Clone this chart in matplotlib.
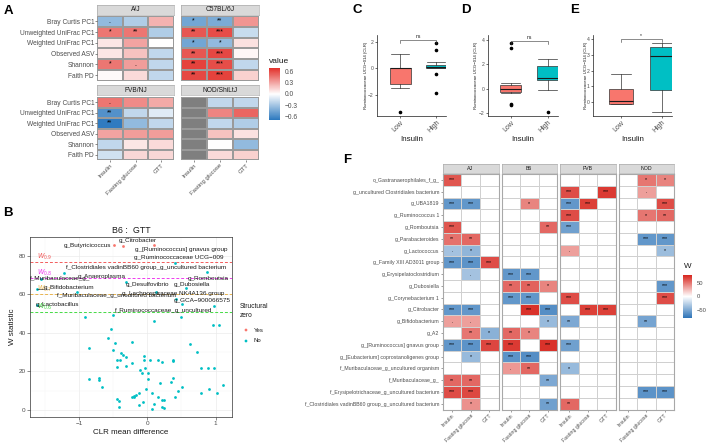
import numpy as np
import matplotlib
matplotlib.use('Agg')
import matplotlib.pyplot as plt
from matplotlib.colors import LinearSegmentedColormap, Normalize
import matplotlib.colorbar as mcolorbar

plt.rcParams['font.family'] = ['Liberation Sans', 'DejaVu Sans']

# ------------------------------------------------------------------ data
# Panel A
a_metrics = ['Bray Curtis PC1', 'Unweighted UniFrac PC1', 'Weighted UniFrac PC1',
             'Observed ASV', 'Shannon', 'Faith PD']
a_vars = ['Insulin', 'Fasting glucose', 'GTT']
a_strains = ['A/J', 'C57BL/6J', 'FVB/NJ', 'NOD/ShiLtJ']
a_aj = [[-0.35, -0.25, 0.25], [0.45, 0.45, -0.25], [0.08, 0.30, 0.0],
        [0.08, 0.20, -0.20], [0.45, 0.32, -0.20], [0.02, 0.12, -0.20]]
a_aj_sig = [['.', '', ''], ['*', '**', ''], ['', '', ''], ['', '', ''], ['*', '.', ''], ['', '', '']]
a_b6 = [[-0.45, -0.42, 0.35], [0.55, 0.58, -0.18], [-0.45, -0.35, 0.10],
        [0.55, 0.60, 0.03], [0.62, 0.58, -0.20], [0.60, 0.62, 0.15]]
a_b6_sig = [['*', '**', ''], ['**', '***', ''], ['*', '*', ''], ['**', '***', ''],
            ['**', '***', ''], ['**', '***', '']]
a_fvb = [[0.45, 0.38, 0.28], [-0.55, -0.20, -0.10], [-0.66, -0.35, -0.20],
         [0.30, 0.32, 0.32], [-0.20, 0.08, 0.12], [-0.15, 0.13, 0.13]]
a_fvb_sig = [['.', '', ''], ['**', '', ''], ['**', '', ''], ['', '', ''], ['', '', ''], ['', '', '']]
a_nod = [[np.nan, -0.20, -0.20], [np.nan, 0.40, 0.50], [np.nan, -0.20, -0.25],
         [np.nan, 0.20, 0.10], [np.nan, 0.0, -0.35], [np.nan, 0.12, 0.15]]
a_nod_sig = [['', '', '']] * 6

# Panel B
b_yes_x = [-0.49, -0.36, 0.10]
b_yes_y = [85.5, 85.0, 85.3]
b_no_x = [0.41, -1.22, 0.88, -1.56, -0.32, -1.62, 0.57, 0.12, -1.03, 0.42, 0.51, 0.97, -1.62, 0.50,
          -0.51, -0.92, 0.09, 0.96, 1.05, -0.54, -0.57, -0.47, -0.22, 0.63, -0.85, -0.50, -0.38,
          0.73, -0.35, -0.05, -0.32, -0.44, -0.40, -0.05, 0.04, 0.15, 0.37, -0.22, 0.21, 0.37,
          -0.45, -0.32, 0.78, 0.89, 0.97, -0.11, -0.04, -0.08, 0.01, -0.86, -0.71, -0.71, 0.01,
          0.38, 0.34, 0.19, 1.11, -0.66, 0.51, -0.02, 0.45, 0.91, 1.02, 0.78, 0.07, -0.12, -0.16,
          -0.19, -0.23, 0.15, 0.40, -0.20, 0.25, 0.22, -0.06, -0.45, -0.41, -0.13, -0.42, 0.09,
          0.07, 0.22, 0.25]
b_no_y = [76.3, 71.2, 71.3, 67.8, 66.3, 62.8, 63.4, 61.3, 61.0, 57.5, 54.8, 54.0, 54.4, 48.4,
          49.0, 48.0, 46.0, 44.0, 44.0, 41.8, 37.1, 34.5, 35.1, 34.0, 32.0, 30.9, 29.7,
          29.9, 28.3, 28.2, 27.3, 26.0, 26.0, 26.0, 26.0, 26.0, 26.0, 24.2, 24.9, 25.4,
          22.1, 22.8, 21.9, 22.0, 22.0, 20.7, 21.9, 19.0, 19.3, 16.0, 15.5, 16.5, 15.9,
          16.7, 14.5, 13.8, 12.8, 11.8, 11.8, 10.7, 9.8, 10.7, 9.0, 9.0, 9.0, 9.0, 8.0,
          7.0, 7.0, 6.9, 6.9, 7.5, 5.0, 5.0, 4.0, 5.7, 4.7, 2.8, 1.7, 2.9,
          0.7, 1.5, 1.0]
b_thr_names = ['$W_{0.9}$', '$W_{0.8}$', '$W_{0.7}$', '$W_{0.6}$']
b_thr_vals = [76.8, 68.2, 60.0, 51.0]
b_thr_cols = ['#F25C5C', '#EE3BEE', '#E9B54E', '#45DC45']
b_labels = ['g_Butyricicoccus', 'g_Citrobacter', 'g_[Ruminococcus] gnavus group',
            'g_Ruminococcaceae UCG\u2212009',
            'f_Clostridiales vadinBB60 group_g_uncultured bacterium',
            'f_Muribaculaceae_g_', 'g_Anaeroplasma', 'g_Romboutsia', 'g_Desulfovibrio',
            'g_Dubosiella', 'g_Bifidobacterium', 'f_Muribaculaceae_g_uncultured bacterium',
            'g_Lachnospiraceae NK4A136 group', 'g_GCA\u2212900066575', 'g_Lactobacillus',
            'f_Ruminococcaceae_g_uncultured']
b_lab_tx = [-1.23, -0.42, -0.18, -0.20, -1.19, -1.72, -1.02, 0.59, -0.31, 0.38, -1.52, -1.33,
            -0.37, 0.38, -1.63, -0.47]
b_lab_ty = [85.0, 87.6, 82.9, 78.8, 73.9, 68.2, 69.4, 68.2, 64.9, 64.9, 63.6, 59.1, 60.4, 56.6,
            54.6, 51.5]
b_lab_px = [-0.49, -0.36, 0.10, 0.41, -1.22, -1.56, -0.32, 0.88, 0.12, 0.57, -1.62, -1.03,
            0.42, 0.51, -1.62, 0.50]
b_lab_py = [85.5, 85.0, 85.3, 76.3, 71.2, 67.8, 66.3, 71.3, 61.3, 63.4, 62.8, 61.0, 57.5, 54.8,
            54.4, 48.4]

# Panels C-E  (Ruminococcaceae UCG-014 CLR, Low vs High insulin)
box_groups = ['Low', 'High']
c_whislo = [-1.52, -0.02]; c_q1 = [-1.21, 0.0]; c_med = [0.0, 0.12]; c_q3 = [0.0, 0.25]
c_whishi = [1.10, 0.45]; c_fliers = [[-3.33], [1.9, 1.4, -0.4, -1.9]]
d_whislo = [-0.35, -0.08]; d_q1 = [-0.28, 0.69]; d_med = [0.0, 0.91]; d_q3 = [0.27, 1.84]
d_whishi = [0.50, 2.42]; d_fliers = [[3.77, 3.3, -1.24, -1.36], [-1.95]]
e_whislo = [-0.12, -0.62]; e_q1 = [-0.12, 0.75]; e_med = [0.05, 2.92]; e_q3 = [0.87, 3.52]
e_whishi = [1.82, 3.80]; e_fliers = [[], []]
cde_sig = ['ns', 'ns', '*']

# Panel F
f_taxa = ['o_Gastranaerophilales_f_g_', 'g_uncultured Clostridiales bacterium', 'g_UBA1819',
          'g_Ruminococcus 1', 'g_Romboutsia', 'g_Parabacteroides', 'g_Lactococcus',
          'g_Family XIII AD3011 group', 'g_Erysipelatoclostridium', 'g_Dubosiella',
          'g_Corynebacterium 1', 'g_Citrobacter', 'g_Bifidobacterium', 'g_A2',
          'g_[Ruminococcus] gnavus group', 'g_[Eubacterium] coprostanoligenes group',
          'f_Muribaculaceae_g_uncultured organism', 'f_Muribaculaceae_g_',
          'f_Erysipelotrichaceae_g_uncultured bacterium',
          'f_Clostridiales vadinBB60 group_g_uncultured bacterium']
f_strains = ['AJ', 'B6', 'FVB', 'NOD']
f_aj = [[62, 0, 0], [0, 0, 0], [-60, -60, 0], [0, 0, 0], [62, 0, 0], [52, 55, 0], [-35, -42, 0],
        [-60, -62, 65], [0, -35, 0], [0, 0, 0], [0, 0, 0], [-60, -60, 0], [35, 35, 0],
        [0, 50, -45], [-60, -62, 68], [0, -40, 0], [0, 0, 0], [55, 55, 0], [65, 67, 0], [0, 40, 0]]
f_aj_sig = [['***', '', ''], ['', '', ''], ['***', '***', ''], ['', '', ''], ['***', '', ''],
            ['**', '**', ''], ['.', '*', ''], ['***', '***', '***'], ['', '.', ''], ['', '', ''],
            ['', '', ''], ['***', '***', ''], ['.', '.', ''], ['', '**', '*'], ['***', '***', '***'],
            ['', '*', ''], ['', '', ''], ['**', '**', ''], ['***', '***', ''], ['', '*', '']]
f_b6 = [[0, 0, 0], [0, 0, 0], [0, 45, 0], [0, 0, 0], [0, 0, 55], [0, 0, 0], [0, 0, 0], [0, 0, 0],
        [-60, -60, 0], [55, 58, 45], [-60, -60, 0], [0, 75, -65], [0, 0, -40], [55, 45, 0],
        [72, 0, 75], [-62, -65, 0], [38, 55, 0], [0, 0, -50], [0, 0, 0], [0, 0, -55]]
f_b6_sig = [['', '', ''], ['', '', ''], ['', '*', ''], ['', '', ''], ['', '', '**'], ['', '', ''],
            ['', '', ''], ['', '', ''], ['***', '***', ''], ['**', '**', '*'], ['***', '***', ''],
            ['', '***', '***'], ['', '', '*'], ['**', '*', ''], ['***', '', '***'],
            ['***', '***', ''], ['.', '**', ''], ['', '', '**'], ['', '', ''], ['', '', '**']]
f_fvb = [[0, 0, 0], [65, 0, 72], [-60, 70, 0], [65, 0, 0], [-55, 0, 0], [0, 0, 0], [35, 0, 0],
         [0, 0, 0], [0, 0, 0], [0, 0, 0], [65, 0, 0], [0, 70, 70], [-50, 0, 0], [0, 0, 0],
         [-55, 0, 0], [0, 0, 0], [-40, 0, 0], [0, 0, 0], [0, 0, 0], [55, 0, 0]]
f_fvb_sig = [['', '', ''], ['***', '', '***'], ['***', '***', ''], ['***', '', ''], ['***', '', ''],
             ['', '', ''], ['.', '', ''], ['', '', ''], ['', '', ''], ['', '', ''], ['***', '', ''],
             ['', '***', '***'], ['**', '', ''], ['', '', ''], ['***', '', ''], ['', '', ''],
             ['*', '', ''], ['', '', ''], ['', '', ''], ['**', '', '']]
f_nod = [[0, 50, 45], [0, 35, 0], [0, 0, 65], [0, 50, 55], [0, 0, 0], [0, -60, -60], [0, 0, -38],
         [0, 0, 0], [0, 0, 0], [0, 0, -60], [0, 0, 65], [0, 0, 0], [0, -52, 0], [0, 0, 0],
         [0, 0, 0], [0, 0, 0], [0, 0, 0], [0, 0, 0], [0, -62, -62], [0, 0, 0]]
f_nod_sig = [['', '*', '*'], ['', '.', ''], ['', '', '***'], ['', '*', '**'], ['', '', ''],
             ['', '***', '***'], ['', '', '*'], ['', '', ''], ['', '', ''], ['', '', '***'],
             ['', '', '***'], ['', '', ''], ['', '**', ''], ['', '', ''], ['', '', ''], ['', '', ''],
             ['', '', ''], ['', '', ''], ['', '***', '***'], ['', '', '']]

# ------------------------------------------------------------------ figure
W, H = 708, 447
fig = plt.figure(figsize=(W / 100, H / 100), dpi=100)


def ax_px(x0, y0, x1, y1, **kw):
    return fig.add_axes([x0 / W, 1 - y1 / H, (x1 - x0) / W, (y1 - y0) / H], **kw)


over = fig.add_axes([0, 0, 1, 1], zorder=-5)
over.set_xlim(0, W); over.set_ylim(H, 0); over.axis('off')

GREY30 = '#4D4D4D'
cmapA = LinearSegmentedColormap.from_list('a', ['#2B78BE', '#FFFFFF', '#E2302A'])
cmapA.set_bad('#7F7F7F')
normA = Normalize(-0.68, 0.68)
cmapF = LinearSegmentedColormap.from_list('f', ['#2E74B8', '#FFFFFF', '#D7261E'])
cmapF.set_bad('white')
normF = Normalize(-80, 80)


def heat(ax, vals, sigs, cmap, norm, fs, edge, lw):
    v = np.array(vals, dtype=float)
    nr, nc = v.shape
    ax.pcolormesh(np.arange(nc + 1), np.arange(nr + 1), np.ma.masked_invalid(v), cmap=cmap,
                  norm=norm, edgecolors=edge, linewidth=lw)
    for i in range(nr):
        for j in range(nc):
            if sigs[i][j]:
                ax.text(j + 0.5, i + 0.5, sigs[i][j], ha='center', va='center', fontsize=fs,
                        color='black')
    ax.set_xlim(0, nc); ax.set_ylim(nr, 0)
    ax.set_xticks(np.arange(nc) + 0.5); ax.set_yticks(np.arange(nr) + 0.5)


def strip(x0, y0, x1, y1, label, fs):
    s = ax_px(x0, y0, x1, y1)
    s.set_facecolor('#D9D9D9')
    s.set_xticks([]); s.set_yticks([])
    for sp in s.spines.values():
        sp.set_color('#A0A0A0'); sp.set_linewidth(0.4)
    s.text(0.5, 0.5, label, ha='center', va='center', fontsize=fs, color='#1A1A1A',
           transform=s.transAxes)


# ------------------------------------------------------------------ Panel A
a_data = [(a_aj, a_aj_sig), (a_b6, a_b6_sig), (a_fvb, a_fvb_sig), (a_nod, a_nod_sig)]
a_boxes = [(97, 16, 174, 80.5), (180.5, 16, 259, 80.5), (97, 97, 174, 160), (180.5, 97, 259, 160)]
a_strips = [(97, 5, 174, 14.5), (180.5, 5, 259, 14.5), (97, 85, 174, 95), (180.5, 85, 259, 95)]
for k in range(4):
    x0, y0, x1, y1 = a_boxes[k]
    ax = ax_px(x0, y0, x1, y1)
    heat(ax, a_data[k][0], a_data[k][1], cmapA, normA, 5, '#9A9A9A', 0.3)
    for sp in ax.spines.values():
        sp.set_visible(False)
    ax.tick_params(length=1.5, width=0.4, color='#333333', labelsize=4.8, labelcolor=GREY30, pad=0.5)
    if k in (0, 2):
        ax.set_yticklabels(a_metrics)
    else:
        ax.tick_params(axis='y', left=False, labelleft=False)
    if k in (2, 3):
        ax.set_xticklabels(a_vars, rotation=45, ha='right', rotation_mode='anchor', fontsize=4.3)
    else:
        ax.tick_params(axis='x', bottom=False, labelbottom=False)
    strip(*a_strips[k], a_strains[k], 4.8)

cbA = ax_px(269, 68, 280, 120)
cb = mcolorbar.ColorbarBase(cbA, cmap=cmapA, norm=normA, ticks=[0.6, 0.3, 0.0, -0.3, -0.6])
cb.outline.set_visible(False)
cb.ax.set_yticklabels(['0.6', '0.3', '0.0', '\u22120.3', '\u22120.6'])
cb.ax.tick_params(length=2, width=0.5, color='white', labelsize=4.8, labelcolor=GREY30, pad=1.5)
over.text(269, 61.5, 'value', fontsize=6, ha='left', va='center', color='#1A1A1A')

# ------------------------------------------------------------------ Panel B
axB = ax_px(30, 237, 232, 417)
axB.set_xlim(-1.72, 1.24); axB.set_ylim(-3.6, 89.6)
axB.set_xticks([-1, 0, 1]); axB.set_yticks([0, 20, 40, 60, 80])
axB.set_xticks([-1.5, -0.5, 0.5], minor=True); axB.set_yticks([10, 30, 50, 70], minor=True)
axB.grid(True, which='major', color='#EBEBEB', lw=0.5)
axB.grid(True, which='minor', color='#F4F4F4', lw=0.3)
axB.set_axisbelow(True)
for sp in axB.spines.values():
    sp.set_color('#333333'); sp.set_linewidth(0.5)
axB.tick_params(which='major', length=2, width=0.4, color='#333333', labelsize=4.6,
                labelcolor=GREY30, pad=1)
axB.tick_params(which='minor', length=0)
axB.set_xticklabels(['\u22121', '0', '1'])
axB.set_xlabel('CLR mean difference', fontsize=5.8, labelpad=2, color='#1A1A1A')
axB.set_ylabel('W statistic', fontsize=5.8, labelpad=2, color='#1A1A1A')
axB.set_title('B6 :  GTT', fontsize=6.4, pad=3, color='#1A1A1A')
for nm, val, col in zip(b_thr_names, b_thr_vals, b_thr_cols):
    axB.axhline(val, color=col, lw=0.7, ls=(0, (3, 2)), zorder=1)
    axB.text(-1.62, val + 2.6, nm, color=col, fontsize=4.8, ha='left', va='center', zorder=2)
axB.scatter(b_no_x, b_no_y, s=4, color='#00BFC4', zorder=3, linewidths=0)
axB.scatter(b_yes_x, b_yes_y, s=4, color='#F8766D', zorder=3, linewidths=0)
b_texts = []
for t, tx, ty in zip(b_labels, b_lab_tx, b_lab_ty):
    b_texts.append(axB.text(tx, ty, t, fontsize=4.6, ha='left', va='center', color='#1A1A1A',
                            zorder=4, clip_on=False))

# legend
over.text(240, 311, 'Structural\nzero', fontsize=4.8, ha='left', va='center', color='#1A1A1A',
          linespacing=1.3)
over.scatter([246, 246], [330, 341], s=4, color=['#F8766D', '#00BFC4'], linewidths=0)
over.text(254, 330, 'Yes', fontsize=4.3, ha='left', va='center', color='#1A1A1A')
over.text(254, 341, 'No', fontsize=4.3, ha='left', va='center', color='#1A1A1A')

# ------------------------------------------------------------------ Panels C-E
cde = [
    (c_whislo, c_q1, c_med, c_q3, c_whishi, c_fliers, (377.3, 446.5), (0.37, 2.28), (-3.56, 2.5),
     [-2, 0, 2], 2.13, 365.5),
    (d_whislo, d_q1, d_med, d_q3, d_whishi, d_fliers, (488.3, 558), (0.395, 2.28), (-2.21, 4.41),
     [-2, 0, 2, 4], 3.91, 476),
    (e_whislo, e_q1, e_med, e_q3, e_whishi, e_fliers, (593.3, 672.3), (0.32, 2.26), (-0.85, 4.28),
     [0, 1, 2, 3, 4], 4.0, 586),
]
box_cols = ['#F8766D', '#00BFC4']
for idx, (wlo, q1, med, q3, whi, fl, (x0, x1), xl, yl, yt, ybr, ylx) in enumerate(cde):
    ax = ax_px(x0, 35, x1, 115.5)
    stats = []
    for g in range(2):
        stats.append(dict(whislo=wlo[g], q1=q1[g], med=med[g], q3=q3[g], whishi=whi[g],
                          fliers=fl[g], label=box_groups[g]))
    bp = ax.bxp(stats, positions=[1, 2], widths=0.58, capwidths=0.5, patch_artist=True,
                showfliers=True,
                boxprops=dict(linewidth=0.5, edgecolor='#333333'),
                medianprops=dict(color='#1A1A1A', linewidth=0.8),
                whiskerprops=dict(color='#333333', linewidth=0.5),
                capprops=dict(color='#333333', linewidth=0.5),
                flierprops=dict(marker='o', markersize=1.6, markerfacecolor='black',
                                markeredgecolor='black'))
    for p, c in zip(bp['boxes'], box_cols):
        p.set_facecolor(c)
    ax.set_xlim(*xl); ax.set_ylim(*yl)
    ax.set_yticks(yt)
    ax.set_yticklabels([str(v).replace('-', '\u2212') for v in yt])
    for s in ('top', 'right'):
        ax.spines[s].set_visible(False)
    for s in ('left', 'bottom'):
        ax.spines[s].set_linewidth(0.5); ax.spines[s].set_color('#1A1A1A')
    ax.tick_params(axis='y', length=1.5, width=0.4, labelsize=3.6, labelcolor=GREY30, pad=1)
    ax.tick_params(axis='x', length=1.5, width=0.4, labelsize=5, labelcolor=GREY30, pad=1)
    ax.set_xticks([1, 2])
    ax.set_xticklabels(box_groups, rotation=45, ha='right', rotation_mode='anchor')
    ax.set_xlabel('Insulin', fontsize=5.8, labelpad=1, color='#1A1A1A')
    rng = yl[1] - yl[0]
    ax.plot([1, 1, 2, 2], [ybr - 0.035 * rng, ybr, ybr, ybr - 0.035 * rng], color='#333333',
            lw=0.4, clip_on=False)
    ax.text(1.5, ybr + 0.015 * rng, cde_sig[idx], fontsize=3.6, ha='center', va='bottom',
            color='#1A1A1A', clip_on=False)
    over.text(ylx, 75, 'Ruminococcaceae UCG\u2212014 (CLR)', rotation=90, fontsize=3.1,
              ha='center', va='center', color='#1A1A1A')

# ------------------------------------------------------------------ Panel F
f_data = [(f_aj, f_aj_sig), (f_b6, f_b6_sig), (f_fvb, f_fvb_sig), (f_nod, f_nod_sig)]
f_x = [(442.5, 498.5), (501.5, 557), (560, 615.5), (618.5, 674)]
for k in range(4):
    x0, x1 = f_x[k]
    ax = ax_px(x0, 174, x1, 409.5)
    vals = np.array(f_data[k][0], dtype=float)
    vals[vals == 0] = np.nan
    heat(ax, vals, f_data[k][1], cmapF, normF, 3.8, '#D0D0D0', 0.4)
    for sp in ax.spines.values():
        sp.set_color('#A8A8A8'); sp.set_linewidth(0.8)
    ax.tick_params(length=1.5, width=0.4, color='#555555', labelsize=3.8, labelcolor=GREY30, pad=0.8)
    if k == 0:
        ax.set_yticklabels(f_taxa)
    else:
        ax.tick_params(axis='y', left=False, labelleft=False)
    ax.set_xticklabels(a_vars, rotation=45, ha='right', rotation_mode='anchor', fontsize=3.8)
    strip(x0, 163.5, x1, 173, f_strains[k], 3.8)

cbF = ax_px(683, 275, 692, 318)
cb2 = mcolorbar.ColorbarBase(cbF, cmap=cmapF, norm=normF, ticks=[50, 0, -50])
cb2.outline.set_visible(False)
cb2.ax.set_yticklabels(['50', '0', '\u221250'])
cb2.ax.tick_params(length=2, width=0.5, color='white', labelsize=4.2, labelcolor=GREY30, pad=1.5)
over.text(683.5, 267, 'W', fontsize=5.8, ha='left', va='center', color='#1A1A1A')

# ------------------------------------------------------------------ panel letters
for lab, (x, y) in zip('ABCDEF', [(8, 11), (8, 213), (357, 10), (466, 10), (575, 10), (347, 160)]):
    over.text(x, y, lab, fontsize=9.5, fontweight='bold', ha='center', va='center')

# ------------------------------------------------------------------ repel segments for B
fig.canvas.draw()
rend = fig.canvas.get_renderer()
inv = axB.transData.inverted()
for t, px, py in zip(b_texts, b_lab_px, b_lab_py):
    bb = t.get_window_extent(rend)
    P = axB.transData.transform((px, py))
    nx = min(max(P[0], bb.x0), bb.x1)
    ny = min(max(P[1], bb.y0), bb.y1)
    if np.hypot(P[0] - nx, P[1] - ny) > 5:
        a = inv.transform((nx, ny)); b = inv.transform(P)
        axB.plot([a[0], b[0]], [a[1], b[1]], color='#1A1A1A', lw=0.4, zorder=3.5)

fig.savefig('out.png', dpi=100)
